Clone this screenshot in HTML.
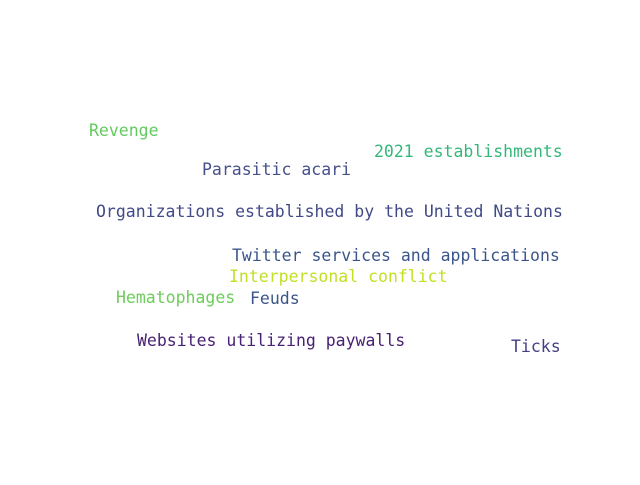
<!DOCTYPE html>
<html><head><meta charset="utf-8"><style>
html,body{margin:0;padding:0;background:#fff;}
svg text{font-family:"DejaVu Sans Mono","Liberation Mono",monospace;font-size:16.5px;}
</style></head>
<body>
<svg width="640" height="480">
<rect width="640" height="480" fill="#fff"/>
<text x="89" y="136" fill="#62cb5f">Revenge</text>
<text x="374" y="157" fill="#35b779">2021 establishments</text>
<text x="202" y="175" fill="#46508a">Parasitic acari</text>
<text x="96" y="217" fill="#414a87">Organizations established by the United Nations</text>
<text x="232" y="261" fill="#3b558b">Twitter services and applications</text>
<text x="229" y="282" fill="#c2df23">Interpersonal conflict</text>
<text x="116" y="303" fill="#6ccd5a">Hematophages</text>
<text x="250" y="304" fill="#3b558b">Feuds</text>
<text x="137" y="346" fill="#482173">Websites utilizing paywalls</text>
<text x="511" y="352" fill="#433e85">Ticks</text>
</svg>
</body></html>
